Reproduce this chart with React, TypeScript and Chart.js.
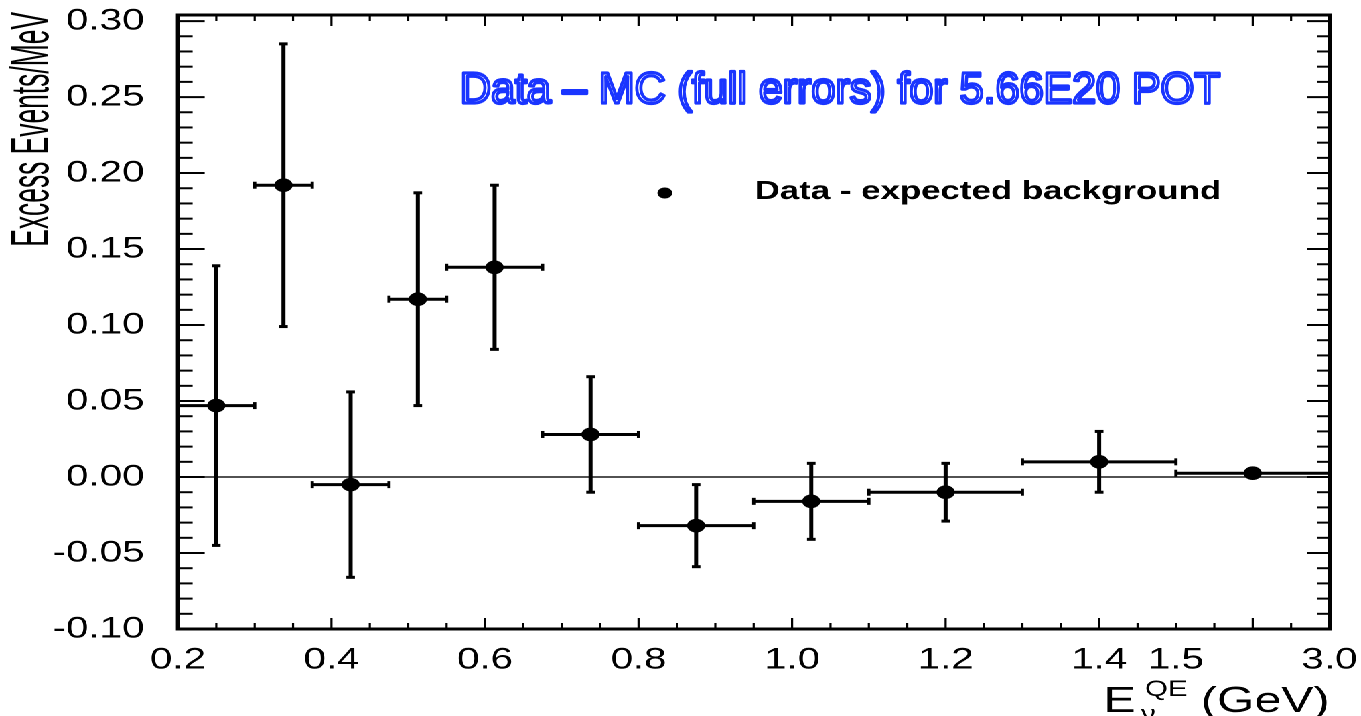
import React, { useEffect, useRef } from "react";
import { Chart, registerables } from "chart.js";

Chart.register(...registerables);

// ---- page geometry (the original picture is a horizontally stretched ROOT plot) ----
const PAGE_W = 1361;
const CANVAS_W = 1016;
const CANVAS_H = 716;
const STRETCH = PAGE_W / CANVAS_W;

// ---- data ----
const binLow = [0.2, 0.3, 0.375, 0.475, 0.55, 0.675, 0.8, 0.95, 1.1, 1.3, 1.5];
const binHigh = [0.3, 0.375, 0.475, 0.55, 0.675, 0.8, 0.95, 1.1, 1.3, 1.5, 3.0];
const excess = [0.047, 0.192, -0.005, 0.117, 0.138, 0.028, -0.032, -0.016, -0.010, 0.010, 0.0025];
const excessErr = [0.092, 0.093, 0.061, 0.070, 0.054, 0.038, 0.027, 0.025, 0.019, 0.020, 0.001];

const xTickEnergies = [0.2, 0.4, 0.6, 0.8, 1.0, 1.2, 1.4, 1.5, 3.0];
const xTickLabels = ["0.2", "0.4", "0.6", "0.8", "1.0", "1.2", "1.4", "1.5", "3.0"];
const yTickValues = [-0.1, -0.05, 0, 0.05, 0.1, 0.15, 0.2, 0.25, 0.3];
const yTickLabels = ["-0.10", "-0.05", "0.00", "0.05", "0.10", "0.15", "0.20", "0.25", "0.30"];

const titleText = "Data – MC (full errors) for 5.66E20 POT";
const legendText = "Data - expected background";
const yTitleText = "Excess Events/MeV";

// the last bin (1.5–3.0 GeV) is drawn squeezed into 0.2 axis units, as in the original
const toAxis = (e: number) => (e <= 1.5 ? e : 1.5 + ((e - 1.5) * 0.2) / 1.5);

const FONT = "'Liberation Sans', Arial, Helvetica, sans-serif";

const rootStyle = {
  id: "rootStyle",
  beforeDatasetsDraw(chart: any) {
    const ctx = chart.ctx;
    const xs = chart.scales.x;
    const ys = chart.scales.y;
    const a = chart.chartArea;
    ctx.save();
    // zero line
    ctx.strokeStyle = "#3a3a3a";
    ctx.lineWidth = 1.8;
    const y0 = ys.getPixelForValue(0);
    ctx.beginPath();
    ctx.moveTo(a.left, y0);
    ctx.lineTo(a.right, y0);
    ctx.stroke();

    const line = (x1: number, y1: number, x2: number, y2: number) => {
      ctx.beginPath();
      ctx.moveTo(x1, y1);
      ctx.lineTo(x2, y2);
      ctx.stroke();
    };
    ctx.strokeStyle = "#000";
    binLow.forEach((lo, i) => {
      const xl = xs.getPixelForValue(toAxis(lo));
      const xh = xs.getPixelForValue(toAxis(binHigh[i]));
      const xc = xs.getPixelForValue((toAxis(lo) + toAxis(binHigh[i])) / 2);
      const yc = ys.getPixelForValue(excess[i]);
      const yt = ys.getPixelForValue(excess[i] + excessErr[i]);
      const yb = ys.getPixelForValue(excess[i] - excessErr[i]);
      ctx.lineWidth = 3;
      line(xl, yc, xh, yc);
      line(xc, yt, xc, yb);
      // caps
      ctx.lineWidth = 2.4;
      line(xl, yc - 3.5, xl, yc + 3.5);
      line(xh, yc - 3.5, xh, yc + 3.5);
      ctx.lineWidth = 3;
      line(xc - 3.2, yt, xc + 3.2, yt);
      line(xc - 3.2, yb, xc + 3.2, yb);
    });
    ctx.restore();
  },
  afterDraw(chart: any) {
    const ctx = chart.ctx;
    const xs = chart.scales.x;
    const ys = chart.scales.y;
    const a = chart.chartArea;
    ctx.save();
    ctx.strokeStyle = "#000";
    const line = (x1: number, y1: number, x2: number, y2: number) => {
      ctx.beginPath();
      ctx.moveTo(x1, y1);
      ctx.lineTo(x2, y2);
      ctx.stroke();
    };
    // inward ticks on y (left & right)
    ctx.lineWidth = 2;
    for (let k = -10; k <= 30; k++) {
      const y = ys.getPixelForValue(k / 100);
      const major = k % 5 === 0;
      line(a.left, y, a.left + (major ? 20 : 11), y);
      line(a.right, y, a.right - (major ? 17 : 9), y);
    }
    // inward ticks on x (bottom & top)
    ctx.lineWidth = 1.6;
    for (let k = 4; k <= 34; k++) {
      const x = xs.getPixelForValue(k * 0.05);
      const major = k % 4 === 0;
      line(x, a.bottom, x, a.bottom - (major ? 11 : 6));
      line(x, a.top, x, a.top + (major ? 11 : 6));
    }
    // frame
    ctx.lineWidth = 3;
    ctx.strokeRect(a.left, a.top, a.right - a.left, a.bottom - a.top);

    // title (outlined blue text)
    ctx.save();
    ctx.translate(343.4, 103);
    ctx.scale(0.73, 1);
    ctx.font = `44px ${FONT}`;
    ctx.textAlign = "left";
    ctx.textBaseline = "alphabetic";
    ctx.fillStyle = "#fff";
    ctx.fillText(titleText, 0, 0);
    ctx.strokeStyle = "#1a35ff";
    ctx.lineWidth = 3.2;
    ctx.lineJoin = "round";
    ctx.strokeText(titleText, 0, 0);
    ctx.restore();

    // legend
    ctx.fillStyle = "#000";
    ctx.beginPath();
    ctx.arc(496.3, 193, 5.5, 0, Math.PI * 2);
    ctx.fill();
    ctx.font = `bold 26px ${FONT}`;
    ctx.textAlign = "left";
    ctx.textBaseline = "alphabetic";
    ctx.fillText(legendText, 563.4, 199);

    // y axis title (rotated, condensed)
    ctx.save();
    ctx.translate(25, 12);
    ctx.rotate(-Math.PI / 2);
    ctx.scale(0.66, 1);
    ctx.font = `40px ${FONT}`;
    ctx.textAlign = "right";
    ctx.textBaseline = "middle";
    ctx.fillText(yTitleText, 0, 0);
    ctx.restore();

    // x axis title  E_nu^QE (GeV), right aligned at the frame
    const big = `36px ${FONT}`;
    const small = `22px ${FONT}`;
    ctx.font = big;
    const wE = ctx.measureText("E").width;
    const wRest = ctx.measureText(" (GeV)").width;
    ctx.font = small;
    const wQE = ctx.measureText("QE").width;
    const gap = 7;
    const total = wE + gap + wQE + wRest;
    let x = a.right - total;
    const base = 712;
    ctx.font = big;
    ctx.fillText("E", x, base);
    x += wE + gap;
    ctx.font = small;
    ctx.fillText("QE", x, base - 16);
    ctx.fillText("ν", x - 3, base + 9);
    x += wQE;
    ctx.font = big;
    ctx.fillText(" (GeV)", x, base);
    ctx.restore();
  },
};

export default function App() {
  const ref = useRef<HTMLCanvasElement>(null);
  useEffect(() => {
    if (!ref.current) return;
    const points = excess.map((v, i) => ({
      x: (toAxis(binLow[i]) + toAxis(binHigh[i])) / 2,
      y: v,
    }));
    const chart = new Chart(ref.current, {
      type: "scatter",
      data: {
        datasets: [
          {
            label: legendText,
            data: points,
            pointRadius: 6.8,
            pointHoverRadius: 6.8,
            backgroundColor: "#000",
            borderColor: "#000",
            borderWidth: 0,
            showLine: false,
          },
        ],
      },
      options: {
        animation: false,
        responsive: false,
        devicePixelRatio: 2,
        events: [],
        layout: { padding: { top: 15, right: CANVAS_W - 992.5, left: 0, bottom: 0 } },
        plugins: {
          legend: { display: false },
          tooltip: { enabled: false },
          title: { display: false },
        },
        scales: {
          x: {
            type: "linear",
            min: toAxis(0.2),
            max: toAxis(3.0),
            grid: { display: false, drawTicks: false },
            border: { display: false },
            afterBuildTicks: (scale: any) => {
              scale.ticks = xTickEnergies.map((e) => ({ value: toAxis(e) }));
            },
            afterFit: (scale: any) => {
              scale.height = CANVAS_H - 629;
              scale.paddingLeft = 0;
              scale.paddingRight = 0;
            },
            ticks: {
              autoSkip: false,
              maxRotation: 0,
              minRotation: 0,
              padding: 13,
              color: "#000",
              font: { family: FONT, size: 30 },
              callback: (_v: any, i: number) => xTickLabels[i],
            },
          },
          y: {
            type: "linear",
            min: -0.1,
            max: 0.304,
            grid: { display: false, drawTicks: false },
            border: { display: false },
            afterBuildTicks: (scale: any) => {
              scale.ticks = yTickValues.map((v) => ({ value: v }));
            },
            afterFit: (scale: any) => {
              scale.width = 132.8;
              scale.paddingTop = 0;
              scale.paddingBottom = 0;
            },
            ticks: {
              padding: 25,
              color: "#000",
              font: { family: FONT, size: 30 },
              callback: (_v: any, i: number) => yTickLabels[i],
            },
          },
        },
      },
      plugins: [rootStyle],
    } as any);
    return () => chart.destroy();
  }, []);

  return (
    <div
      style={{
        position: "fixed",
        left: 0,
        top: 0,
        width: CANVAS_W,
        height: CANVAS_H,
        transform: `scaleX(${STRETCH})`,
        transformOrigin: "0 0",
        background: "#fff",
      }}
    >
      <canvas ref={ref} width={CANVAS_W} height={CANVAS_H} style={{ display: "block", width: CANVAS_W, height: CANVAS_H }} />
    </div>
  );
}
